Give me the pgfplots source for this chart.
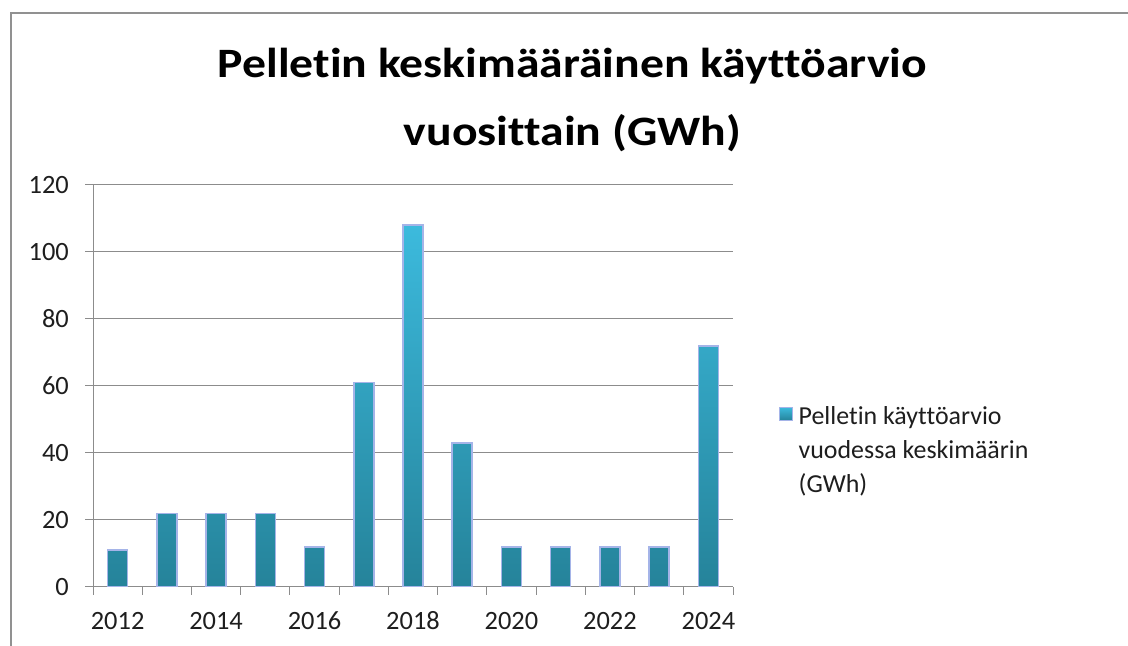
\documentclass[border=0pt]{standalone}
\usepackage{pgfplots}
\pgfplotsset{compat=1.18}
\usepackage{fontspec}
\setmainfont{Carlito}[RawFeature={-liga,-clig,-dlig,-calt}]
\definecolor{bartop}{RGB}{60,186,221}
\definecolor{barbot}{RGB}{37,131,154}
\definecolor{baredge}{RGB}{165,180,232}
\definecolor{gridc}{RGB}{140,140,140}
\definecolor{framec}{RGB}{145,145,145}
\definecolor{txt}{RGB}{30,30,30}
\begin{document}
\begin{tikzpicture}[x=1bp,y=1bp]
\useasboundingbox (0,0) rectangle (1128,646);
\fill[white] (0,0) rectangle (1128,646);
\draw[framec, line width=2.2bp] (11,-5) -- (11,633) -- (1133,633);
\begin{axis}[
  at={(93bp,59bp)}, anchor=south west,
  scale only axis, width=640bp, height=402bp,
  xmin=-0.5, xmax=12.5, ymin=0, ymax=120,
  ytick={0,20,...,120},
  xtick={-0.5,0.5,...,12.5}, xticklabels={},
  extra x ticks={0,2,...,12},
  extra x tick labels={2012,2014,2016,2018,2020,2022,2024},
  extra x tick style={major tick length=0pt, grid=none,
     xticklabel style={anchor=base, inner sep=0pt, yshift=-43bp}},
  axis x line*=bottom, axis y line*=left,
  ymajorgrids, grid style={gridc, line width=1bp},
  axis line style={gridc, line width=1bp},
  tick style={gridc, line width=1bp},
  major tick length=8bp, tick align=outside,
  /pgf/number format/assume math mode=true,
  ticklabel style={font=\fontsize{26.5}{30}\selectfont, text=txt},
  yticklabel style={anchor=east, inner sep=0pt, xshift=-16bp},
  title={\scalebox{1.14}[1]{Pelletin keskimääräinen käyttöarvio}\\[26bp]\scalebox{1.14}[1]{vuosittain (GWh)}},
  title style={font=\bfseries\fontsize{42}{42}\selectfont, align=center, text=black,
     at={(0.749,1)}, anchor=south, inner sep=0pt, yshift=27bp},
  legend style={at={(1.0673,0.341)}, anchor=west, draw=none, fill=none,
     font=\fontsize{26}{34}\selectfont, text=txt, cells={anchor=west, align=left}},
  legend image code/.code={\fill[top color=bartop, bottom color=barbot, draw=baredge, line width=0.8bp] (0bp,29.5bp) rectangle (13bp,42.5bp); \path[draw=none, fill=none, shade=false] (13bp,36bp) -- (17bp,36bp);},
]
\addplot[ybar, bar width=20bp, draw=baredge, line width=1.5bp, top color=bartop, bottom color=barbot]
  coordinates {(0,11) (1,22) (2,22) (3,22) (4,12) (5,61) (6,108) (7,43) (8,12) (9,12) (10,12) (11,12) (12,72)};
\addlegendentry{Pelletin käyttöarvio\\vuodessa keskimäärin\\(GWh)}
\end{axis}
\end{tikzpicture}
\end{document}
